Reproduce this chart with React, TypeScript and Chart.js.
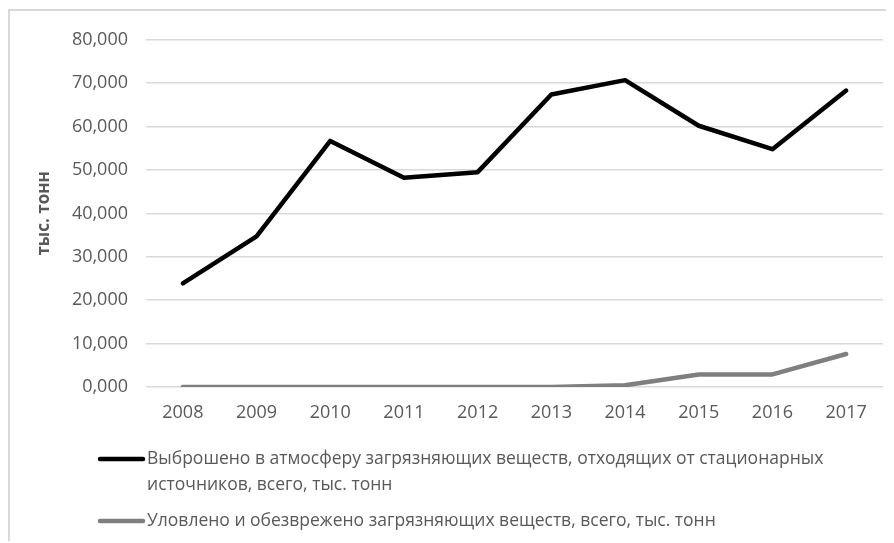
import React, { useEffect, useRef } from "react";
import { Chart, registerables } from "chart.js";

Chart.register(...registerables);

const years = ["2008", "2009", "2010", "2011", "2012", "2013", "2014", "2015", "2016", "2017"];
const emitted = [23.9, 34.7, 56.7, 48.2, 49.5, 67.4, 70.7, 60.2, 54.8, 68.3];
const captured = [0, 0, 0, 0, 0, 0, 0.4, 2.9, 2.9, 7.6];
const emittedLabel = [
  "Выброшено в атмосферу загрязняющих веществ, отходящих от стационарных",
  "источников, всего, тыс. тонн",
];
const capturedLabel = ["Уловлено и обезврежено загрязняющих веществ, всего, тыс. тонн"];
const yTitle = "тыс. тонн";

const FONT = "'Open Sans', sans-serif";
const TEXT = "#595959";
const SIZE = 18;
const LEGEND_SIZE = 17.5;

const legendPlugin = {
  id: "customLegend",
  afterDraw(chart: any) {
    const ctx = chart.ctx;
    const items = [
      { lines: emittedLabel, color: "#000000", y: 448 },
      { lines: capturedLabel, color: "#7f7f7f", y: 510 },
    ];
    ctx.save();
    ctx.font = `${LEGEND_SIZE}px ${FONT}`;
    ctx.fillStyle = TEXT;
    ctx.textBaseline = "middle";
    ctx.textAlign = "left";
    items.forEach((it) => {
      ctx.beginPath();
      ctx.strokeStyle = it.color;
      ctx.lineWidth = 4.5;
      ctx.lineCap = "round";
      ctx.moveTo(90, it.y);
      ctx.lineTo(133, it.y);
      ctx.stroke();
      it.lines.forEach((l: string, i: number) => {
        ctx.fillText(l, 137, it.y + i * 26);
      });
    });
    ctx.restore();
  },
};

export default function App() {
  const ref = useRef<HTMLCanvasElement>(null);
  useEffect(() => {
    const chart = new Chart(ref.current as HTMLCanvasElement, {
      type: "line",
      data: {
        labels: years,
        datasets: [
          {
            label: emittedLabel.join(" "),
            data: emitted,
            borderColor: "#000000",
            borderWidth: 4.5,
            pointRadius: 0,
            tension: 0,
            borderJoinStyle: "round",
            borderCapStyle: "round",
          },
          {
            label: capturedLabel[0],
            data: captured,
            borderColor: "#7f7f7f",
            borderWidth: 4.5,
            pointRadius: 0,
            tension: 0,
            borderJoinStyle: "round",
            borderCapStyle: "round",
          },
        ],
      },
      options: {
        animation: false,
        responsive: false,
        maintainAspectRatio: false,
        layout: { padding: { left: 20, right: 9, top: 24, bottom: 0 } },
        plugins: { legend: { display: false }, tooltip: { enabled: false } },
        scales: {
          x: {
            offset: true,
            grid: { display: false, drawTicks: false },
            border: { display: false },
            ticks: { color: TEXT, font: { family: FONT, size: SIZE }, padding: 15, maxRotation: 0 },
            afterFit: (s: any) => {
              s.height = 154;
            },
          },
          y: {
            min: 0,
            max: 80,
            grid: { color: "#d9d9d9", lineWidth: 1.5, drawTicks: false },
            border: { display: false },
            ticks: {
              stepSize: 10,
              color: TEXT,
              font: { family: FONT, size: SIZE },
              padding: 18,
              callback: (v: any) => Number(v).toFixed(3).replace(".", ","),
            },
            title: {
              display: true,
              text: yTitle,
              color: TEXT,
              font: { family: FONT, size: 17, weight: "bold" },
              padding: { top: 4, bottom: 0 },
            },
            afterFit: (s: any) => {
              s.width = 116;
            },
          },
        },
      },
      plugins: [legendPlugin],
    } as any);
    return () => chart.destroy();
  }, []);
  return (
    <div
      style={{
        position: "relative",
        marginTop: 1,
        width: 884,
        height: 532,
        borderTop: "2px solid #d9d9d9",
        borderLeft: "2px solid #d9d9d9",
        boxSizing: "border-box",
        background: "#fff",
      }}
    >
      <canvas ref={ref} width={882} height={530} style={{ position: "absolute", left: 0, top: 0 }} />
    </div>
  );
}
